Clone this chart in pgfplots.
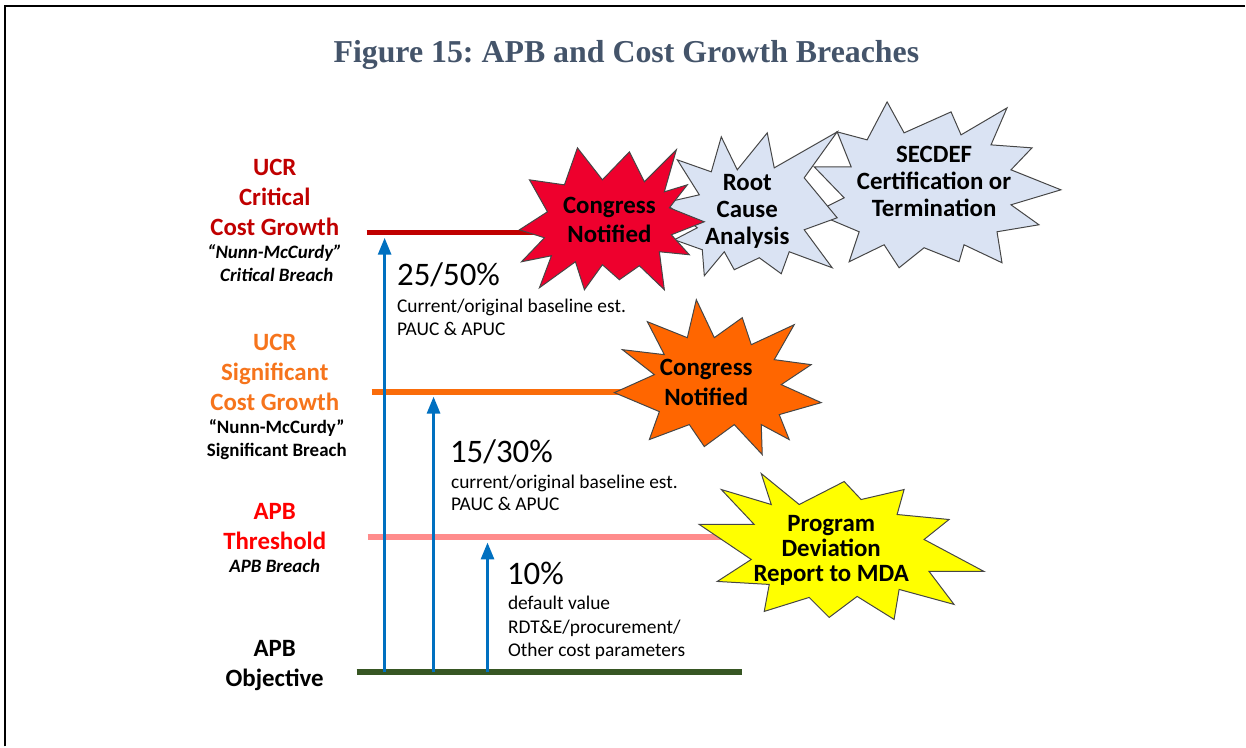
\documentclass[border=0pt]{standalone}
\usepackage{pgfplots}
\pgfplotsset{compat=1.18}
\usepackage{fontspec}
\setmainfont{Carlito}
\newfontfamily\titlefont{Liberation Serif}
\usetikzlibrary{arrows.meta}
\frenchspacing

\definecolor{titleblue}{RGB}{68,84,106}
\definecolor{ucrred}{RGB}{192,0,0}
\definecolor{ucrorange}{RGB}{246,116,28}
\definecolor{lineorange}{RGB}{250,108,10}
\definecolor{apbred}{RGB}{255,0,0}
\definecolor{apbpink}{RGB}{255,140,140}
\definecolor{objgreen}{RGB}{55,86,35}
\definecolor{arrowblue}{RGB}{0,112,192}
\definecolor{starred}{RGB}{238,0,45}
\definecolor{starorange}{RGB}{255,102,0}
\definecolor{staryellow}{RGB}{255,255,0}
\definecolor{starblue}{RGB}{218,227,243}
\definecolor{starline}{RGB}{70,70,70}

\tikzset{
  big/.style={anchor=base, font=\fontsize{25}{29}\selectfont\bfseries},
  small/.style={anchor=base, font=\fontsize{19}{22}\selectfont\bfseries},
  smallit/.style={anchor=base, font=\fontsize{19}{22}\selectfont\bfseries\itshape},
  pct/.style={anchor=base west, font=\fontsize{33}{36}\selectfont},
  note/.style={anchor=base west, font=\fontsize{19.5}{22}\selectfont},
  star/.style={anchor=base, font=\fontsize{25}{28}\selectfont\bfseries},
}

\begin{document}
\begin{tikzpicture}
\begin{axis}[
    width=1246bp, height=747bp, scale only axis,
    xmin=0, xmax=1246, ymin=0, ymax=747,
    y dir=reverse, hide axis, clip=false,
]
% page extent and frame
\addplot[draw=none] coordinates {(0,0) (1246,747)};
\addplot[black, line width=2.5pt] coordinates {(5,747) (5,6) (1246,6)};

% level lines
\addplot[ucrred, line width=5pt] coordinates {(367,233) (550,233)};
\addplot[lineorange, line width=6pt] coordinates {(372,392) (640,392)};
\addplot[apbpink, line width=6pt] coordinates {(368,538) (730,538)};
\addplot[objgreen, line width=6pt] coordinates {(357,673) (743,673)};

% arrows
\addplot[arrowblue, line width=3pt, -{Triangle[width=13pt,length=17pt]}]
    coordinates {(385,673) (385,238)};
\addplot[arrowblue, line width=3pt, -{Triangle[width=13pt,length=17pt]}]
    coordinates {(434,673) (434,397)};
\addplot[arrowblue, line width=3pt, -{Triangle[width=13pt,length=17pt]}]
    coordinates {(488,673) (488,543)};

% starbursts
\addplot[fill=starblue, draw=starline, line width=1pt] coordinates {
    (838,132)(868,140)(888,102)(905,133)(952,112)(962,135)(1008,108)
    (992,145)(1033,148)(1012,170)(1062,190)(1012,205)(1040,225)(998,232)
    (1003,263)(965,245)(960,262)(925,248)(900,268)(885,245)(850,262)
    (860,232)(815,213)(845,198)(815,167)(852,167)} -- cycle;
\addplot[fill=starblue, draw=starline, line width=1pt] coordinates {
    (722,137)(738,170)(768,133)(775,168)(838,132)(805,178)(838,218)
    (805,230)(833,268)(790,252)(782,274)(760,258)(735,270)(725,252)
    (705,276)(703,250)(675,240)(698,228)(665,203)(700,195)(678,160)
    (712,172)} -- cycle;
\addplot[fill=starred, draw=starline, line width=1pt] coordinates {
    (578,148)(603,180)(630,152)(645,182)(677,150)(665,192)(688,185)
    (670,208)(705,222)(672,235)(690,255)(660,252)(665,290)(640,266)
    (620,280)(603,265)(585,290)(576,262)(540,288)(552,256)(522,262)
    (545,238)(520,230)(548,212)(530,180)(565,185)} -- cycle;
\addplot[fill=starorange, draw=starline, line width=1pt] coordinates {
    (697,300)(715,338)(743,318)(752,345)(795,325)(775,360)(812,365)
    (782,385)(822,403)(780,415)(790,440)(762,425)(763,455)(735,425)
    (705,447)(690,425)(650,440)(660,412)(615,393)(655,375)(623,350)
    (665,355)(648,322)(688,338)} -- cycle;
\addplot[fill=staryellow, draw=starline, line width=1pt] coordinates {
    (762,474)(800,505)(845,482)(862,500)(905,490)(898,515)(950,520)
    (925,540)(985,572)(930,572)(955,605)(900,590)(895,620)(858,597)
    (830,618)(810,598)(765,612)(770,585)(718,582)(752,560)(700,525)
    (755,525)(722,490)(772,505)} -- cycle;

% title
\node[anchor=base, text=titleblue, font=\titlefont\fontsize{32}{36}\selectfont\bfseries]
    at (axis cs:627,63) {Figure 15: APB and Cost Growth Breaches};

% left labels
\node[big, text=ucrred] at (axis cs:275,176) {UCR};
\node[big, text=ucrred] at (axis cs:275,206) {Critical};
\node[big, text=ucrred] at (axis cs:275,236) {Cost Growth};
\node[smallit] at (axis cs:275,259) {“Nunn-McCurdy”};
\node[smallit] at (axis cs:277,282) {Critical Breach};
\node[big, text=ucrorange] at (axis cs:275,351) {UCR};
\node[big, text=ucrorange] at (axis cs:275,381) {Significant};
\node[big, text=ucrorange] at (axis cs:275,411) {Cost Growth};
\node[small] at (axis cs:277,434) {“Nunn-McCurdy”};
\node[small] at (axis cs:277,457) {Significant Breach};
\node[big, text=apbred] at (axis cs:275,520) {APB};
\node[big, text=apbred] at (axis cs:275,550) {Threshold};
\node[smallit] at (axis cs:275,573) {APB Breach};
\node[big] at (axis cs:275,657) {APB};
\node[big] at (axis cs:275,687) {Objective};

% arrow annotations
\node[pct] at (axis cs:394,286) {25/50\%};
\node[note] at (axis cs:394,313) {Current/original baseline est.};
\node[note] at (axis cs:394,336) {PAUC \& APUC};
\node[pct] at (axis cs:447,463) {15/30\%};
\node[note] at (axis cs:448,489) {current/original baseline est.};
\node[note] at (axis cs:448,511) {PAUC \& APUC};
\node[pct] at (axis cs:504,585) {10\%};
\node[note] at (axis cs:505,610) {default value};
\node[note] at (axis cs:505,634) {RDT\&E/procurement/};
\node[note] at (axis cs:505,657) {Other cost parameters};

% star texts
\node[star] at (axis cs:610,214) {Congress};
\node[star] at (axis cs:610,243) {Notified};
\node[star] at (axis cs:748,191) {Root};
\node[star] at (axis cs:748,218) {Cause};
\node[star] at (axis cs:748,245) {Analysis};
\node[star] at (axis cs:935,163) {SECDEF};
\node[star] at (axis cs:935,190) {Certification or};
\node[star] at (axis cs:935,217) {Termination};
\node[star] at (axis cs:707,376) {Congress};
\node[star] at (axis cs:707,406) {Notified};
\node[star] at (axis cs:832,532) {Program};
\node[star] at (axis cs:832,557) {Deviation};
\node[star] at (axis cs:832,582) {Report to MDA};
\end{axis}
\end{tikzpicture}
\end{document}
